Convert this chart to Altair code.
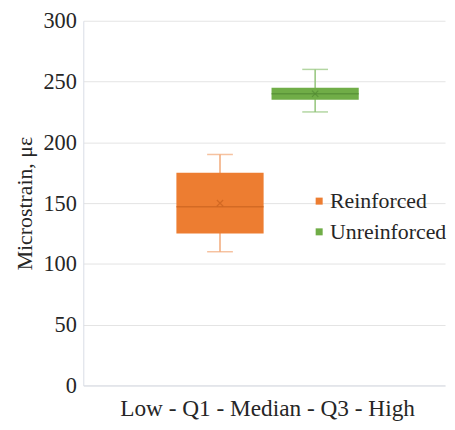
import altair as alt
import pandas as pd

series = ["Reinforced", "Unreinforced"]
category = "Low - Q1 - Median - Q3 - High"
low = [110, 225]
q1 = [125, 235]
median = [147, 240]
q3 = [175, 245]
high = [190, 260]
mean = [150, 240]

box_colors = ["#ED7D31", "#70AD47"]
light_colors = ["#F2A878", "#93C47A"]
dark_colors = ["#C9621F", "#528A33"]

df = pd.DataFrame({
    "cat": [category] * 2,
    "series": series,
    "low": low, "q1": q1, "median": median, "q3": q3, "high": high, "mean": mean,
})

FONT = "Liberation Serif"

xenc = alt.X("cat:N", title=None,
             scale=alt.Scale(paddingInner=0, paddingOuter=0.4918, align=0.519),
             axis=alt.Axis(labelAngle=0, ticks=False, labelFontSize=23.5, labelPadding=11,
                           labelLimit=0, labelColor="#262626", domainColor="#D9DDE6"))
xoff = alt.XOffset("series:N", scale=alt.Scale(paddingInner=0.0833, paddingOuter=0))
yscale = alt.Scale(domain=[0, 300])
yaxis = alt.Axis(values=[0, 50, 100, 150, 200, 250, 300], ticks=False, labelPadding=7,
                 labelFontSize=22.5, titleFontSize=22, titleFontWeight="normal",
                 labelColor="#262626", titleColor="#262626", gridColor="#E4E4E4",
                 domainColor="#D9DDE6", titlePadding=7)

def col(rng, legend=None):
    return alt.Color("series:N", scale=alt.Scale(domain=series, range=rng), legend=legend)

base = alt.Chart(df)
YT = "Microstrain, με"

whisker = base.mark_rule(strokeWidth=1.5).encode(
    x=xenc, xOffset=xoff,
    y=alt.Y("low:Q", scale=yscale, title=YT, axis=yaxis),
    y2="high:Q",
    color=col(light_colors),
)

box = base.mark_bar(strokeWidth=1).encode(
    x=xenc, xOffset=xoff,
    y=alt.Y("q1:Q", scale=yscale, title=YT, axis=yaxis), y2="q3:Q",
    color=col(box_colors, alt.Legend(title=None, orient="none", legendX=227, legendY=171,
                                     symbolType="square", symbolSize=50, labelFontSize=22,
                                     labelColor="#262626", rowPadding=9, labelOffset=0,
                                     padding=0, symbolStrokeWidth=0)),
)

cap_lo = base.mark_tick(size=26, thickness=1.5).encode(
    x=xenc, xOffset=xoff, y=alt.Y("low:Q", scale=yscale, title=YT, axis=yaxis),
    color=col(light_colors))
cap_hi = base.mark_tick(size=26, thickness=1.5).encode(
    x=xenc, xOffset=xoff, y=alt.Y("high:Q", scale=yscale, title=YT, axis=yaxis),
    color=col(light_colors))

med = base.mark_tick(size=88, thickness=1.5).encode(
    x=xenc, xOffset=xoff, y=alt.Y("median:Q", scale=yscale, title=YT, axis=yaxis),
    color=col(dark_colors))

mn = base.mark_point(shape="M-1,-1L1,1M-1,1L1,-1", size=40, strokeWidth=1.2, filled=False).encode(
    x=xenc, xOffset=xoff, y=alt.Y("mean:Q", scale=yscale, title=YT, axis=yaxis),
    color=col(dark_colors))

chart = alt.layer(whisker, cap_lo, cap_hi, box, med, mn).resolve_scale(
    color="independent"
).properties(
    width=365, height=368,
    padding={"left": 5, "top": 0, "right": 0, "bottom": 0},
    background="white",
).configure_view(stroke=None).configure_axis(
    labelFont=FONT, titleFont=FONT
).configure_legend(labelFont=FONT)

chart.save("out.html", embed_options={"renderer": "svg", "actions": False})
